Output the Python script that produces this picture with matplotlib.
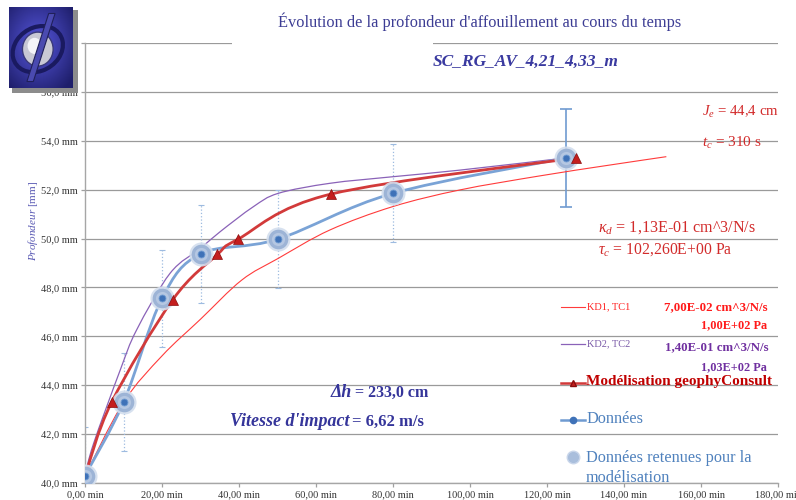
import numpy as np
import matplotlib
matplotlib.use('Agg')
import matplotlib.pyplot as plt
from matplotlib.path import Path
from matplotlib.patches import PathPatch, Rectangle, Ellipse, Polygon
from matplotlib.lines import Line2D

plt.rcParams['font.family'] = ['Liberation Serif', 'DejaVu Serif']
plt.rcParams['mathtext.fontset'] = 'custom'
plt.rcParams['mathtext.rm'] = 'Liberation Serif'
plt.rcParams['mathtext.it'] = 'Liberation Serif:italic'
plt.rcParams['mathtext.bf'] = 'Liberation Serif:bold'

# --- données ---
temps_mesures = [0, 10, 20, 30, 50, 80, 125]
prof_mesures = [40.3, 43.3, 47.55, 49.37, 49.97, 51.85, 53.3]
erreur_mesures = [2.0, 2.0, 2.0, 2.0, 2.0, 2.0, 2.0]

temps_modele = [0, 6.9, 22.8, 34.4, 39.7, 63.9, 127.5]
prof_modele = [40.3, 43.3, 47.5, 49.35, 49.97, 51.82, 53.3]

temps_kd1 = [0, 10, 20, 30, 40.7, 50.2, 63.6, 80, 97.4, 118, 136, 151]
prof_kd1 = [40.3, 43.3, 45.2, 46.7, 48.3, 49.19, 50.35, 51.31, 51.99, 52.56, 53.0, 53.35]

temps_kd2 = [0, 2.2, 9.1, 13.4, 22.1, 30, 35.1, 43.7, 50.2, 63.6, 80, 97.4, 125]
prof_kd2 = [40.3, 41.6, 44.6, 46.26, 48.58, 49.6, 50.28, 51.3, 51.85, 52.26, 52.53, 52.8, 53.3]

x_ticks = [0, 20, 40, 60, 80, 100, 120, 140, 160, 180]
y_ticks = [40, 42, 44, 46, 48, 50, 52, 54, 56, 58]

W, H = 796, 500


def px(x, y):
    # pixels -> coordonnées figure
    return x / W, 1 - y / H


def smooth_path(x, y):
    """courbe lissée façon Excel (Bezier, tension 1/6)"""
    pts = np.column_stack([x, y]).astype(float)
    n = len(pts)
    verts = [pts[0]]
    codes = [Path.MOVETO]
    for i in range(n - 1):
        p0 = pts[i - 1] if i > 0 else pts[i]
        p1 = pts[i]
        p2 = pts[i + 1]
        p3 = pts[i + 2] if i + 2 < n else pts[i + 1]
        verts += [p1 + (p2 - p0) / 6, p2 - (p3 - p1) / 6, p2]
        codes += [Path.CURVE4] * 3
    return Path(verts, codes)


fig = plt.figure(figsize=(W / 100, H / 100), dpi=100)
ax = fig.add_axes([85 / W, 17 / H, (778 - 85) / W, (483 - 43) / H])
ax.set_xlim(0, 180)
ax.set_ylim(40, 58)

ax.set_xticks(x_ticks)
ax.set_xticklabels([f"{v:.2f}".replace('.', ',') + ' min' for v in x_ticks])
ax.set_yticks(y_ticks)
ax.set_yticklabels([f"{v:.1f}".replace('.', ',') + ' mm' for v in y_ticks])
ax.tick_params(axis='both', labelsize=7.5, labelcolor='#333333', color='#a0a0a0',
               length=3, width=0.9, pad=2)
ax.grid(axis='y', color='#9a9a9a', lw=0.9)
ax.set_axisbelow(True)
for s in ['top', 'right']:
    ax.spines[s].set_visible(False)
for s in ['left', 'bottom']:
    ax.spines[s].set_color('#a6a6a6')
    ax.spines[s].set_linewidth(1.0)

# courbes
ax.add_patch(PathPatch(smooth_path(temps_kd1, prof_kd1), fill=False,
                       edgecolor='#ff3b3b', lw=0.8, zorder=3))
ax.add_patch(PathPatch(smooth_path(temps_kd2, prof_kd2), fill=False,
                       edgecolor='#8a62b8', lw=0.9, zorder=3))
ax.add_patch(PathPatch(smooth_path(temps_mesures, prof_mesures), fill=False,
                       edgecolor='#7aa3d6', lw=2.0, zorder=4))
ax.add_patch(PathPatch(smooth_path(temps_modele, prof_modele), fill=False,
                       edgecolor='#d23a3a', lw=2.0, zorder=5))

# barres d'erreur
eb = ax.errorbar(temps_mesures[:-1], prof_mesures[:-1], yerr=erreur_mesures[:-1], fmt='none',
                 ecolor='#9dbbe0', elinewidth=0.9, capsize=2.5, capthick=0.8, zorder=2)
eb.lines[2][0].set_linestyle(':')
ax.errorbar(temps_mesures[-1:], prof_mesures[-1:], yerr=erreur_mesures[-1:], fmt='none',
            ecolor='#6f9bd1', elinewidth=1.2, capsize=4, capthick=1.2, zorder=2)

# points
ax.scatter(temps_mesures, prof_mesures, s=300, color='#d3deee', alpha=0.9, zorder=6, lw=0)
ax.scatter(temps_mesures, prof_mesures, s=200, color='#9db4d6', zorder=6, lw=0)
ax.scatter(temps_mesures, prof_mesures, s=90, color='#b5c7e2', zorder=6, lw=0)
ax.plot(temps_mesures, prof_mesures, 'o', ms=5, mfc='#3f72b8', mec='#6f9bd1', mew=0.6,
        ls='none', zorder=7)
ax.plot(temps_modele[1:], prof_modele[1:], '^', ms=6.5, mfc='#c41e1e', mec='#8a0d0d',
        mew=0.5, ls='none', zorder=8)

# cache blanc derrière le titre (coupe la ligne des 58 mm)
fig.add_artist(Rectangle(px(232, 50), (433 - 232) / W, 14 / H, transform=fig.transFigure,
                         facecolor='white', edgecolor='none', zorder=1))

# titres
fig.text(*px(480, 22), "Évolution de la profondeur d'affouillement au cours du temps",
         ha='center', va='center', fontsize=11.8, color='#3d3d94')
fig.text(*px(526, 62), "SC_RG_AV_4,21_4,33_m", ha='center', va='center',
         fontsize=12.5, color='#3a3aa0', style='italic', weight='bold')
fig.text(*px(33, 221), r"$Profondeur$ [mm]", rotation=90, ha='center', va='center',
         fontsize=8, color='#5a5ab4')

# paramètres
rouge = '#d22b2b'
fig.text(*px(702, 112), r"$J_e$ = 44,4 cm", ha='left', va='center', fontsize=10.7, color=rouge)
fig.text(*px(702, 143), r"$t_c$ = 310 s", ha='left', va='center', fontsize=11, color=rouge)
fig.text(*px(598, 228), r"$\kappa_d$ = 1,13E-01 cm^3/N/s", ha='left', va='center',
         fontsize=11.6, color=rouge)
fig.text(*px(598, 250), r"$\tau_c$ = 102,260E+00 Pa", ha='left', va='center',
         fontsize=11.3, color=rouge)

bleu = '#35359a'
fig.text(*px(352, 397), "Δh", ha='right', va='baseline', fontsize=13, color=bleu,
         style='italic', weight='bold')
fig.text(*px(355, 397), "= 233,0 cm", ha='left', va='baseline', fontsize=11.5, color=bleu,
         weight='bold')
fig.text(*px(349, 426), "Vitesse d'impact", ha='right', va='baseline', fontsize=13,
         color=bleu, style='italic', weight='bold')
fig.text(*px(352, 426), "= 6,62 m/s", ha='left', va='baseline', fontsize=12, color=bleu,
         weight='bold')


# légende
def handle(y, color, lw, marker=None, ms=5, mfc=None, mec=None):
    fig.add_artist(Line2D([561 / W, 585 / W], [1 - y / H] * 2, color=color, lw=lw,
                          transform=fig.transFigure, zorder=5))
    if marker:
        fig.add_artist(Line2D([573 / W], [1 - y / H], marker=marker, ms=ms, mfc=mfc,
                              mec=mec, transform=fig.transFigure, zorder=6))


handle(307, '#ff3b3b', 0.8)
fig.text(*px(587, 307), "KD1, TC1", ha='left', va='center', fontsize=7.5, color='#ff2020')
fig.text(*px(768, 307), "7,00E-02 cm^3/N/s", ha='right', va='center', fontsize=9.3,
         color='#ff1a1a', weight='bold')
fig.text(*px(767, 325), "1,00E+02 Pa", ha='right', va='center', fontsize=8.8,
         color='#ff1a1a', weight='bold')

handle(344, '#8a62b8', 0.9)
fig.text(*px(587, 344), "KD2, TC2", ha='left', va='center', fontsize=7.5, color='#7a5aa8')
fig.text(*px(769, 347), "1,40E-01 cm^3/N/s", ha='right', va='center', fontsize=9.3,
         color='#7030a0', weight='bold')
fig.text(*px(767, 367), "1,03E+02 Pa", ha='right', va='center', fontsize=8.8,
         color='#7030a0', weight='bold')

handle(383, '#d23a3a', 1.8, '^', 5, '#c41e1e', '#8a0d0d')
fig.text(*px(586, 382), "Modélisation geophyConsult", ha='left', va='center',
         fontsize=11, color='#c00000', weight='bold')

handle(420, '#6f9bd1', 1.8, 'o', 4.5, '#3f72b8', '#3f72b8')
fig.text(*px(586, 419), "Données", ha='left', va='center', fontsize=11.7, color='#4f81bd')

fig.add_artist(Line2D([573 / W], [1 - 457 / H], marker='o', ms=9, mfc='#a9bedc',
                      mec='#c9d6ea', mew=1, transform=fig.transFigure, zorder=6))
fig.text(*px(586, 458), "Données retenues pour la", ha='left', va='center',
         fontsize=11.7, color='#4f81bd')
fig.text(*px(586, 478), "modélisation", ha='left', va='center', fontsize=11.7,
         color='#4f81bd')

# logo (avec ombre qui masque les étiquettes du haut)
fig.add_artist(Rectangle(px(12, 93), 66 / W, 83 / H, transform=fig.transFigure,
                         facecolor='#8c8c8c', edgecolor='none', zorder=9))
lax = fig.add_axes([9 / W, 1 - 88 / H, 64 / W, 81 / H], zorder=10)
gx, gy = np.meshgrid(np.linspace(-1, 1, 64), np.linspace(-1, 1, 81))
r = np.sqrt((gx + 0.1) ** 2 + (gy + 0.1) ** 2)
fond = np.clip(1 - r / 1.4, 0, 1)
img = np.zeros((81, 64, 3))
img[..., 0] = 0.12 + 0.22 * fond
img[..., 1] = 0.12 + 0.22 * fond
img[..., 2] = 0.42 + 0.45 * fond
lax.imshow(img, extent=[0, 1, 0, 1], aspect='auto')
lax.add_patch(Ellipse((0.45, 0.48), 0.8, 0.55, angle=15, facecolor='none',
                      edgecolor='#1a1a60', lw=3))
lax.add_patch(Ellipse((0.45, 0.48), 0.48, 0.42, facecolor='#c8c8d4', edgecolor='#3a3a7a', lw=1))
lax.add_patch(Ellipse((0.40, 0.52), 0.22, 0.2, facecolor='#f4f4f8', edgecolor='none'))
lax.add_patch(Polygon([[0.62, 0.92], [0.72, 0.92], [0.38, 0.08], [0.28, 0.08]],
                      facecolor='#4a4ab0', edgecolor='#20205a', lw=0.8))
lax.set_xlim(0, 1)
lax.set_ylim(0, 1)
lax.axis('off')

fig.savefig('out.png', dpi=100)
